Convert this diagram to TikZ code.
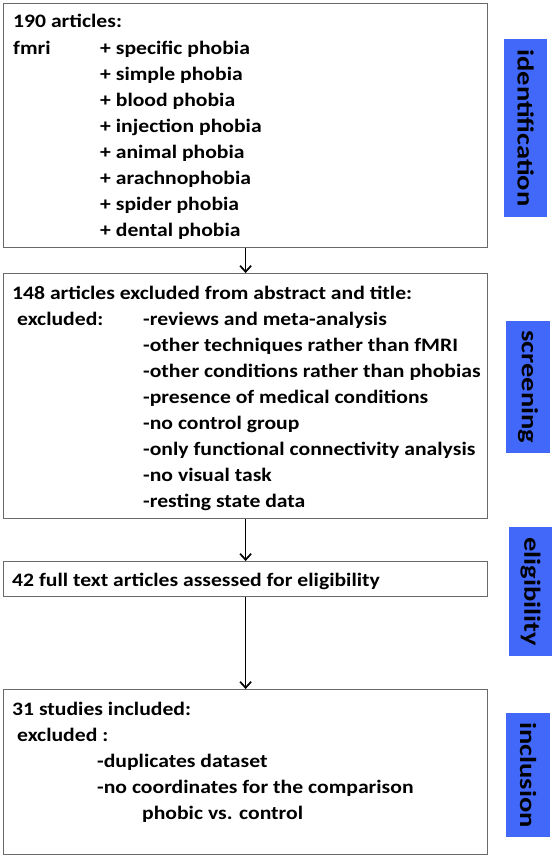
\documentclass[tikz,border=0pt]{standalone}
\usepackage{fontspec}
\setmainfont{Carlito}[FakeStretch=1.14]
\newfontfamily\stagefont{Carlito}[FakeStretch=1.24]
\usetikzlibrary{arrows.meta}
\definecolor{stageblue}{RGB}{66,104,250}
\definecolor{boxgray}{RGB}{105,105,105}

\begin{document}
\begin{tikzpicture}[x=1pt,y=-1pt,
    box/.style={draw=boxgray, line width=1.2pt, anchor=north west, inner sep=0pt},
    txt/.style={anchor=base west, inner sep=0pt, font=\fontsize{19}{23}\selectfont\bfseries},
    stage/.style={fill=stageblue, rotate=-90, inner sep=0pt, font=\stagefont\fontsize{23}{26}\selectfont\bfseries},
    flow/.style={-{Straight Barb[length=6pt,width=11pt]}, line width=1.7pt}]
    \useasboundingbox (0,0) rectangle (556,859);

    % Draw the four boxes
    \node[box, minimum width=484pt, minimum height=244pt] (ident) at (3,3) {};
    \node[box, minimum width=484pt, minimum height=245pt] (screen) at (3,273) {};
    \node[box, minimum width=484pt, minimum height=35pt] (elig) at (3,561) {};
    \node[box, minimum width=484pt, minimum height=165pt] (incl) at (3,689) {};

    % Draw the arrows
    \draw[flow] (ident) -- (screen);
    \draw[flow] (screen) -- (elig);
    \draw[flow] (elig) -- (incl);

    % Identification text
    \node[txt] (n190) at (13,28) {190 articles:};
    \node[txt] (fmri) at (13,55) {fmri};
    \foreach \term [count=\i from 0] in {specific phobia, simple phobia, blood phobia,
        injection phobia, animal phobia, arachnophobia, spider phobia, dental phobia}
        \node[txt] (plus\i) at (100,55+25.9*\i) {+ \term};

    % Screening text
    \node[txt] (n148) at (12,299) {148 articles excluded from abstract and title:};
    \node[txt] (excl1) at (17,325) {excluded:};
    \foreach \reason [count=\i from 0] in {-reviews and meta-analysis,
        -other techniques rather than fMRI, -other conditions rather than phobias,
        -presence of medical conditions, -no control group,
        -only functional connectivity analysis, -no visual task, -resting state data}
        \node[txt] (reason\i) at (143,325+26*\i) {\reason};

    % Eligibility text
    \node[txt] (n42) at (12,586) {42 full text articles assessed for eligibility};

    % Inclusion text
    \node[txt] (n31) at (12,715) {31 studies included:};
    \node[txt] (excl2) at (17,741) {excluded :};
    \node[txt] (dup) at (97,767) {-duplicates dataset};
    \node[txt] (coord) at (97,793) {-no coordinates for the comparison};
    \node[txt] (phobic) at (142,819) {phobic vs. control};

    % Stage labels
    \node[stage, minimum width=178pt, minimum height=43pt] (sident) at (525.5,128) {identification};
    \node[stage, minimum width=132pt, minimum height=44pt] (sscreen) at (528,387) {screening};
    \node[stage, minimum width=129pt, minimum height=43pt] (selig) at (530.5,591.5) {eligibility};
    \node[stage, minimum width=124pt, minimum height=44pt] (sincl) at (528,775) {inclusion};
\end{tikzpicture}
\end{document}
